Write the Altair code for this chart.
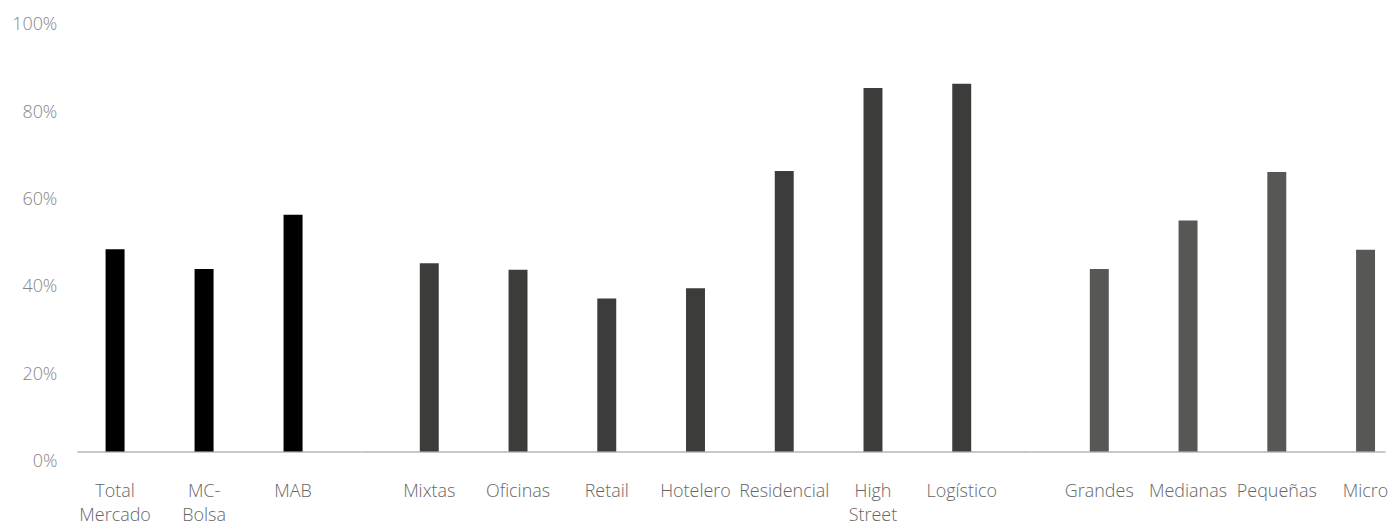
import altair as alt
import pandas as pd

categories = ["Total Mercado", "MC-Bolsa", "MAB",
              "Mixtas", "Oficinas", "Retail", "Hotelero", "Residencial", "High Street", "Logístico",
              "Grandes", "Medianas", "Pequeñas", "Micro"]
values = [46.3, 41.8, 54.2,
          43.1, 41.6, 35.0, 37.4, 64.2, 83.2, 84.2,
          41.8, 52.9, 64.0, 46.2]
groups = ["Mercado"] * 3 + ["Tipología"] * 7 + ["Tamaño"] * 4
group_order = ["Mercado", "Tipología", "Tamaño"]
group_colors = ["#000000", "#3c3c3a", "#575755"]
y_ticks = [0, 20, 40, 60, 80, 100]

df = pd.DataFrame({"cat": categories, "value": values, "group": groups})

FONT = "Open Sans"
label_expr = ("datum.label == 'MC-Bolsa' ? ['MC-', 'Bolsa'] : split(datum.label, ' ')")

# per-panel layout: (width, paddingOuter, align)
layout = {
    "Mercado": (285, 0.49, 0.33),
    "Tipología": (671, 0.663, 0.5),
    "Tamaño": (356, 0.393, 0.857),
}
PI = 0.7865

panels = []
for i, g in enumerate(group_order):
    sub = df[df.group == g]
    w, po, al = layout[g]
    x = alt.X(
        "cat:N",
        sort=list(sub.cat),
        scale=alt.Scale(paddingInner=PI, paddingOuter=po, align=al),
        axis=alt.Axis(
            title=None, labelAngle=0, ticks=False,
            domainColor="#c8c8c8", domainWidth=2,
            labelExpr=label_expr, labelFont=FONT, labelFontSize=18,
            labelFontWeight=300, labelColor="#666666",
            labelPadding=31, labelLineHeight=24,
        ),
    )
    if i == 0:
        yaxis = alt.Axis(
            title=None, values=y_ticks, grid=False, domain=False, ticks=False,
            labelExpr="datum.value + '%'", labelFont=FONT, labelFontSize=18,
            labelFontWeight=300, labelColor="#858585", labelPadding=20,
            labelOffset=10,
        )
    else:
        yaxis = None
    y = alt.Y("value:Q", scale=alt.Scale(domain=[0, 100]), axis=yaxis)
    ch = alt.Chart(sub).mark_bar(color=group_colors[i]).encode(x=x, y=y).properties(
        width=w, height=438
    )
    panels.append(ch)

chart = alt.hconcat(*panels, spacing=0, bounds="flush").properties(
    padding={"left": 3, "top": 6, "right": 0, "bottom": 0}
).configure(background="white").configure_view(strokeWidth=0, stroke=None)

chart.save("out.html", embed_options={"renderer": "svg", "actions": False})
